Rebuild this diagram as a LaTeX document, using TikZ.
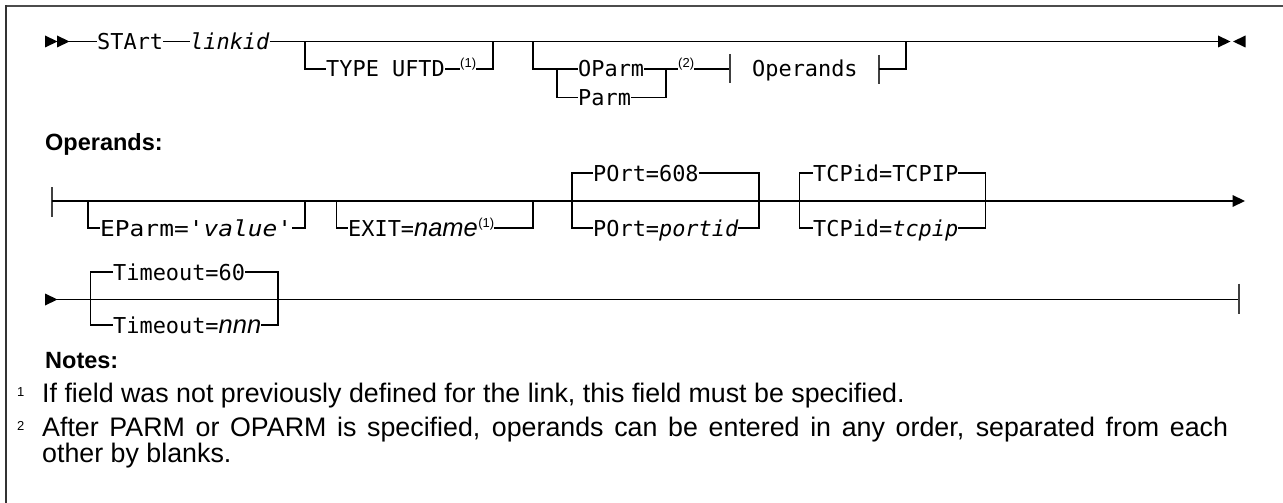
\documentclass[tikz,border=0pt]{standalone}
\usepackage{fontspec}
\setmainfont{Liberation Sans}
\newfontfamily\synmono{DejaVu Sans Mono}
\usetikzlibrary{calc}
\tikzset{
  rail/.style={line width=1.3pt, black},
  tick/.style={line width=2pt, black!75},
  kw/.style={font=\synmono\fontsize{21.9}{24}\selectfont, inner sep=0pt,
             text height=16pt, text depth=0pt, anchor=west},
  fn/.style={font=\fontsize{13}{14}\selectfont, inner sep=0pt, anchor=base west},
  head/.style={font=\bfseries\fontsize{23.5}{26}\selectfont, inner sep=0pt, anchor=base west},
  note/.style={font=\fontsize{26.8}{29}\selectfont, inner sep=0pt, anchor=base west},
  pics/fwd/.style={code={\fill (0,-6) -- (12.5,0) -- (0,6) -- cycle;}},
  pics/bwd/.style={code={\fill (12.5,-6) -- (0,0) -- (12.5,6) -- cycle;}},
}
\newcommand{\vit}[1]{{\itshape #1}}
\newcommand{\sit}[1]{{\rmfamily\itshape\fontsize{25.5}{28}\selectfont #1}}
\begin{document}
\begin{tikzpicture}[x=1pt,y=-1pt]
\useasboundingbox (0,0) rectangle (1283,503);

% frame
\draw[line width=2pt, black!70] (6,6.5) -- (1283,6.5);
\draw[line width=1.5pt, black!80] (6,5.5) -- (6,503);

% ---------- main statement ----------
\pic at (45,41.5) {fwd};
\pic at (57,41.5) {fwd};
\coordinate (r1s) at (69,41.5);
\node[kw] (start) at (97,41.5) {STArt};
\node[kw, font=\synmono\itshape\fontsize{21.9}{24}\selectfont] (linkid) at (190,41.5) {linkid};
\coordinate (r1e) at (1218,41.5);
\draw[rail] (r1s) -- (start.west);
\draw[rail] (start.east) -- (linkid.west);
\draw[rail] (linkid.east) -- (r1e);
\pic at (r1e) {fwd};
\pic at (1233,41.5) {bwd};

% optional TYPE UFTD
\coordinate (b1l) at (305,41.5);
\coordinate (b1r) at (493,41.5);
\node[kw] (type) at (326,69) {TYPE UFTD};
\node[fn] (fa) at (460,67) {(1)};
\draw[rail] (b1l) |- (type.west);
\draw[rail] (type.east) -- (type.east -| fa.west);
\draw[rail] (fa.east |- type.east) -| (b1r);

% optional OParm / Parm with Operands fragment
\coordinate (b2l) at (533,41.5);
\coordinate (b2m) at (557,69);
\coordinate (b2j) at (666,69);
\coordinate (b2r) at (906,41.5);
\node[kw] (oparm) at (578,69) {OParm};
\node[kw] (parm) at (578,97.5) {Parm};
\node[fn] (fb) at (678,67) {(2)};
\coordinate (opl) at (730,69);
\node[kw] (operands) at (752,69) {Operands};
\coordinate (opr) at (879,69);
\draw[rail] (b2l) |- (b2m) -- (oparm.west);
\draw[rail] (b2m) |- (parm.west);
\draw[rail] (oparm.east) -- (b2j);
\draw[rail] (parm.east) -| (b2j);
\draw[rail] (b2j) -- (b2j -| fb.west);
\draw[rail] (fb.east |- b2j) -- (opl);
\draw[tick] (opl) ++(0,-15) -- ++(0,29);
\draw[tick] (opr) ++(0,-14) -- ++(0,29);
\draw[rail] (opr) -| (b2r);

% ---------- Operands fragment ----------
\node[head] (hops) at (45,150.5) {Operands:};

\coordinate (r2s) at (52,201);
\coordinate (r2e) at (1232.5,201);
\draw[tick] (r2s) ++(0,-14) -- ++(0,30);
\draw[rail] (r2s) -- (r2e);
\pic at (r2e) {fwd};

% EParm
\coordinate (c1l) at (88,201);
\coordinate (c1r) at (305,201);
\node[kw] (eparm) at (100,228) {\scalebox{1.12}[1]{EParm=\vit{'value'}}};
\draw[rail] (c1l) |- (eparm.west);
\draw[rail] (eparm.east) -| (c1r);

% EXIT
\coordinate (c2l) at (336.7,201);
\coordinate (c2r) at (533,201);
\node[kw] (exit) at (348,228) {EXIT=\sit{name}};
\node[fn] (fc) at (exit.east |- 0,227) {(1)};
\draw[rail] (c2l) |- (exit.west);
\draw[rail] (fc.east |- exit.east) -| (c2r);

% POrt
\coordinate (c3l) at (572,201);
\coordinate (c3r) at (759,201);
\node[kw] (port1) at (593,173) {POrt=608};
\node[kw] (port2) at (593,228) {POrt=\vit{portid}};
\draw[rail] (port1.west) -| (c3l) |- (port2.west);
\draw[rail] (port1.east) -| (c3r);
\draw[rail] (port2.east) -| (c3r);

% TCPid
\coordinate (c4l) at (799.3,201);
\coordinate (c4r) at (985.7,201);
\node[kw] (tcp1) at (813,173) {TCPid=TCPIP};
\node[kw] (tcp2) at (813,228) {TCPid=\vit{tcpip}};
\draw[rail] (tcp1.west) -| (c4l) |- (tcp2.west);
\draw[rail] (tcp1.east) -| (c4r);
\draw[rail] (tcp2.east) -| (c4r);

% ---------- continuation line ----------
\pic at (45,299.5) {fwd};
\coordinate (r3s) at (57,299.5);
\coordinate (r3e) at (1239,299.5);
\draw[rail] (r3s) -- (r3e);
\draw[tick] (r3e) ++(0,-16) -- ++(0,30);

\coordinate (d1l) at (90.7,299.5);
\coordinate (d1r) at (278,299.5);
\node[kw] (to1) at (113,272) {Timeout=60};
\node[kw] (to2) at (113,325) {Timeout=\sit{nnn}};
\draw[rail] (to1.west) -| (d1l) |- (to2.west);
\draw[rail] (to1.east) -| (d1r);
\draw[rail] (to2.east) -| (d1r);

% ---------- notes ----------
\node[head] (hnotes) at (45,368) {Notes:};
\node[fn] (m1) at (17,396) {1};
\node[note] (t1) at (42,402) {If field was not previously defined for the link, this field must be specified.};
\node[fn] (m2) at (17,430) {2};
\node[note] (t2) at (42,436) {\makebox[1186pt][s]{After PARM or OPARM is specified, operands can be entered in any order, separated from each}};
\node[note] (t3) at (42,462) {other by blanks.};
\end{tikzpicture}
\end{document}
